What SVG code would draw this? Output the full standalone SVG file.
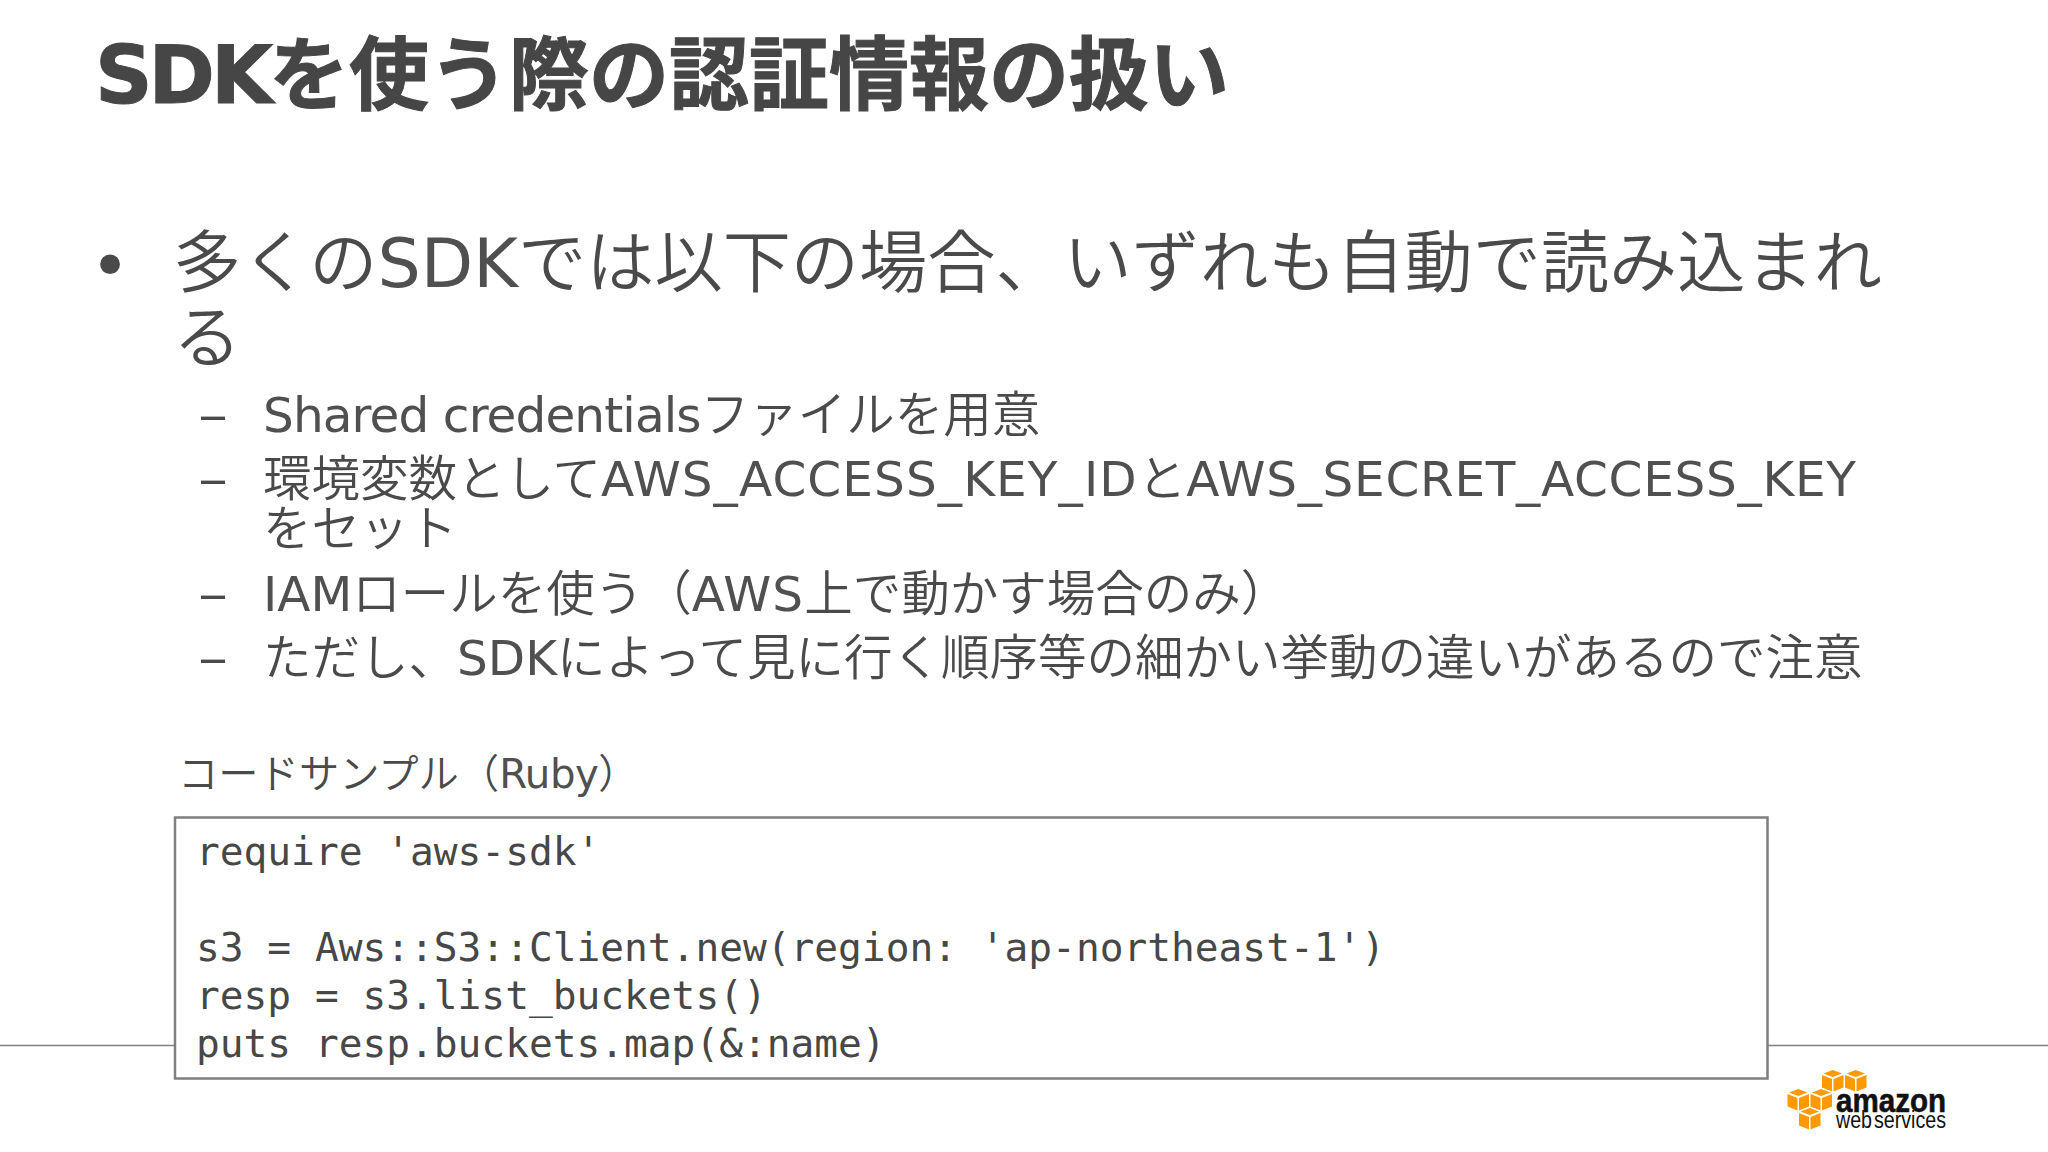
<svg xmlns="http://www.w3.org/2000/svg" width="2048" height="1152" viewBox="0 0 2048 1152">
<style>
text{fill:#4a4a4a;font-family:"DejaVu Sans","Noto Sans CJK JP",sans-serif;white-space:pre}
.t{font-size:80px;font-weight:700;fill:#464646;stroke:#464646;stroke-width:1px}
.m{font-size:68.2px;font-weight:350}
.s{font-size:48.5px;font-weight:350}
.l{font-size:40.3px;font-weight:350}
.a{font-weight:400;fill:#505050}
.b{font-size:68px}
.d{font-size:48px}
.c{font-size:39.5px;font-family:"DejaVu Sans Mono","Noto Sans CJK JP",monospace;fill:#474747}
.cube{fill:#f90}
.g{fill:#111;font-family:"Liberation Sans",sans-serif}
</style>
<defs>
<g id="cube"><path class="cube" d="M0 5 L10 9 V21.500 L0 17.500Z"/><path class="cube" d="M11.500 9 L21.500 5 V17.500 L11.500 21.500Z"/><path class="cube" d="M1.500 3.500 L10.700 0 L20 3.500 L10.700 7Z"/></g>
</defs>
<rect width="2048" height="1152" fill="#fff"/>
<line x1="0" y1="1045.500" x2="2048" y2="1045.500" stroke="#808080" stroke-width="1.500"/>
<text class="t" x="95" y="103"><tspan letter-spacing="-4">SDK</tspan>を使う際の認証情報の扱い</text>
<text class="b" x="90" y="288.500">•</text>
<text class="m" x="173" y="287">多くの<tspan class="a">SDK</tspan>では以下の場合、いずれも自動で読み込まれ</text>
<text class="m" x="173" y="362">る</text>
<text class="d" x="198" y="432" textLength="30" lengthAdjust="spacingAndGlyphs">–</text>
<text class="s" x="263" y="432"><tspan class="a" letter-spacing="-0.9">Shared credentials</tspan>ファイルを用意</text>
<text class="d" x="198" y="496" textLength="30" lengthAdjust="spacingAndGlyphs">–</text>
<text class="s" x="263" y="496">環境変数として<tspan class="a" letter-spacing="1.100">AWS_ACCESS_KEY_ID</tspan>と<tspan class="a" letter-spacing="0.700">AWS_SECRET_ACCESS_KEY</tspan></text>
<text class="s" x="263" y="546">をセット</text>
<text class="d" x="198" y="611" textLength="30" lengthAdjust="spacingAndGlyphs">–</text>
<text class="s" x="263" y="611"><tspan class="a">IAM</tspan>ロールを使う（<tspan class="a" letter-spacing="1">AWS</tspan>上で動かす場合のみ）</text>
<text class="d" x="198" y="675" textLength="30" lengthAdjust="spacingAndGlyphs">–</text>
<text class="s" x="263" y="675">ただし、<tspan class="a">SDK</tspan>によって見に行く順序等の細かい挙動の違いがあるので注意</text>
<text class="l" x="178" y="787.500">コードサンプル（<tspan class="a" letter-spacing="-0.5">Ruby</tspan>）</text>
<g id="code">
<rect x="175" y="817.500" width="1592.500" height="261" fill="#fff" stroke="#7f7f7f" stroke-width="2.500"/>
<text class="c" x="196" y="864.500">require 'aws-sdk'</text>
<text class="c" x="196" y="960.500">s3 = Aws::S3::Client.new(region: 'ap-northeast-1')</text>
<text class="c" x="196" y="1008.500">resp = s3.list_buckets()</text>
<text class="c" x="196" y="1056.500">puts resp.buckets.map(&amp;:name)</text>
</g>
<g id="logo">
<use href="#cube" x="1822" y="1070"/>
<use href="#cube" x="1845" y="1070"/>
<use href="#cube" x="1787.500" y="1089"/>
<use href="#cube" x="1810.500" y="1089"/>
<use href="#cube" x="1799" y="1108"/>
<text class="g" x="1836" y="1112" font-size="34" font-weight="700" stroke="#111" stroke-width="0.600" textLength="110" lengthAdjust="spacingAndGlyphs">amazon</text>
<text class="g" x="1836" y="1128" font-size="23" word-spacing="-4" textLength="110" lengthAdjust="spacingAndGlyphs">web services</text>
</g>
</svg>
